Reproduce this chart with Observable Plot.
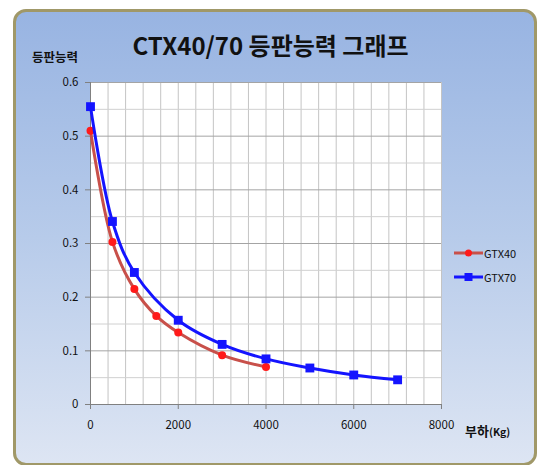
<!DOCTYPE html>
<html><head><meta charset="utf-8">
<script src="https://cdn.jsdelivr.net/npm/d3@7"></script>
<script src="https://cdn.jsdelivr.net/npm/@observablehq/plot@0.6"></script>
<style>
html,body{margin:0;padding:0;width:541px;height:465px;overflow:hidden;background:#fff;font-family:"Noto Sans CJK KR","Noto Sans",sans-serif;}
#frame{position:absolute;left:13px;top:9px;width:518px;height:451px;border:3px solid #a09868;border-radius:13px;
background:linear-gradient(to bottom,#98b4e2 0%,#b7cbea 50%,#dde5f3 100%);}
#chart{position:absolute;left:0;top:0;}
.t{position:absolute;color:#111;white-space:nowrap;line-height:1;}
#title{left:0;width:541px;text-align:center;top:33px;font-size:24px;font-weight:bold;padding-left:0;}
#ylab{left:32px;top:51px;font-size:12.5px;font-weight:bold;}
#xlab{left:465px;top:424px;font-size:13px;font-weight:bold;}
#xlab span{font-size:10.5px;}
.leg{position:absolute;font-size:11px;color:#111;}
</style></head><body>
<div id="frame"></div>
<div id="chart"></div>
<div class="t" id="title">CTX40/70 등판능력 그래프</div>
<div class="t" id="ylab">등판능력</div>
<div class="t" id="xlab">부하<span>(Kg)</span></div>
<div id="legend"></div>
<script>
const loadX40 = [0, 500, 1000, 1500, 2000, 3000, 4000];
const gtx40   = [0.51, 0.303, 0.215, 0.165, 0.134, 0.092, 0.07];
const loadX70 = [0, 500, 1000, 2000, 3000, 4000, 5000, 6000, 7000];
const gtx70   = [0.555, 0.341, 0.246, 0.157, 0.112, 0.085, 0.068, 0.055, 0.046];
const xTicks = [0, 2000, 4000, 6000, 8000];
const yTicks = [0, 0.1, 0.2, 0.3, 0.4, 0.5, 0.6];
const xGrid = d3.range(0, 8001, 400);
const yMinor = [0.05, 0.15, 0.25, 0.35, 0.45, 0.55];
const seriesNames = ["GTX40", "GTX70"];

const d40 = loadX40.map((x, i) => ({x, y: gtx40[i]}));
const d70 = loadX70.map((x, i) => ({x, y: gtx70[i]}));

const plot = Plot.plot({
  width: 541, height: 465,
  marginLeft: 90, marginRight: 100, marginTop: 82, marginBottom: 61,
  style: {background: "transparent", fontSize: "11.5px", fontFamily: "'Noto Sans CJK KR', sans-serif", color: "#111"},
  x: {domain: [0, 8000], label: null},
  y: {domain: [0, 0.6], label: null},
  marks: [
    Plot.frame({fill: "white", stroke: "none"}),
    Plot.ruleX(xGrid, {stroke: "#c4c4c4", strokeWidth: 1}),
    Plot.ruleY(yMinor, {stroke: "#d0d0d0", strokeWidth: 1}),
    Plot.ruleY(yTicks, {stroke: "#a4a4a4", strokeWidth: 1}),
    Plot.ruleX([0], {stroke: "#808080"}),
    Plot.ruleY([0], {stroke: "#808080"}),
    Plot.axisX({ticks: xTicks, tickSize: 5, tickPadding: 11, stroke: "#808080", tickFormat: d => String(d), label: null}),
    Plot.axisY({ticks: yTicks, tickSize: 5, tickPadding: 7, stroke: "#808080", tickFormat: d => d === 0 ? "0" : d3.format(".1f")(d), label: null}),
    Plot.line(d40, {x: "x", y: "y", stroke: "#c8504a", strokeWidth: 3, curve: "catmull-rom"}),
    Plot.dot(d40, {x: "x", y: "y", r: 4, fill: "#ff1a1a", stroke: "none"}),
    Plot.line(d70, {x: "x", y: "y", stroke: "#1414ff", strokeWidth: 3, curve: "catmull-rom"}),
    Plot.dot(d70, {x: "x", y: "y", symbol: "square", r: 5, fill: "#1414ff", stroke: "none"})
  ]
});
document.getElementById("chart").appendChild(plot);

// legend
const leg = d3.select("#legend");
const legColors = [{line: "#c8504a", mark: "#ff1a1a", sym: "circle"}, {line: "#1414ff", mark: "#1414ff", sym: "square"}];
seriesNames.forEach((name, i) => {
  const top = 245 + i * 24;
  const svg = leg.append("svg").style("position", "absolute").style("left", "453px").style("top", top + "px")
    .attr("width", 32).attr("height", 16);
  svg.append("line").attr("x1", 1).attr("x2", 30).attr("y1", 8).attr("y2", 8)
    .attr("stroke", legColors[i].line).attr("stroke-width", 3);
  if (legColors[i].sym === "circle") svg.append("circle").attr("cx", 15.5).attr("cy", 8).attr("r", 3.5).attr("fill", legColors[i].mark);
  else svg.append("rect").attr("x", 11.5).attr("y", 4).attr("width", 8).attr("height", 8).attr("fill", legColors[i].mark);
  leg.append("div").attr("class", "leg").style("left", "484px").style("top", (top) + "px").text(name);
});
</script>
</body></html>
